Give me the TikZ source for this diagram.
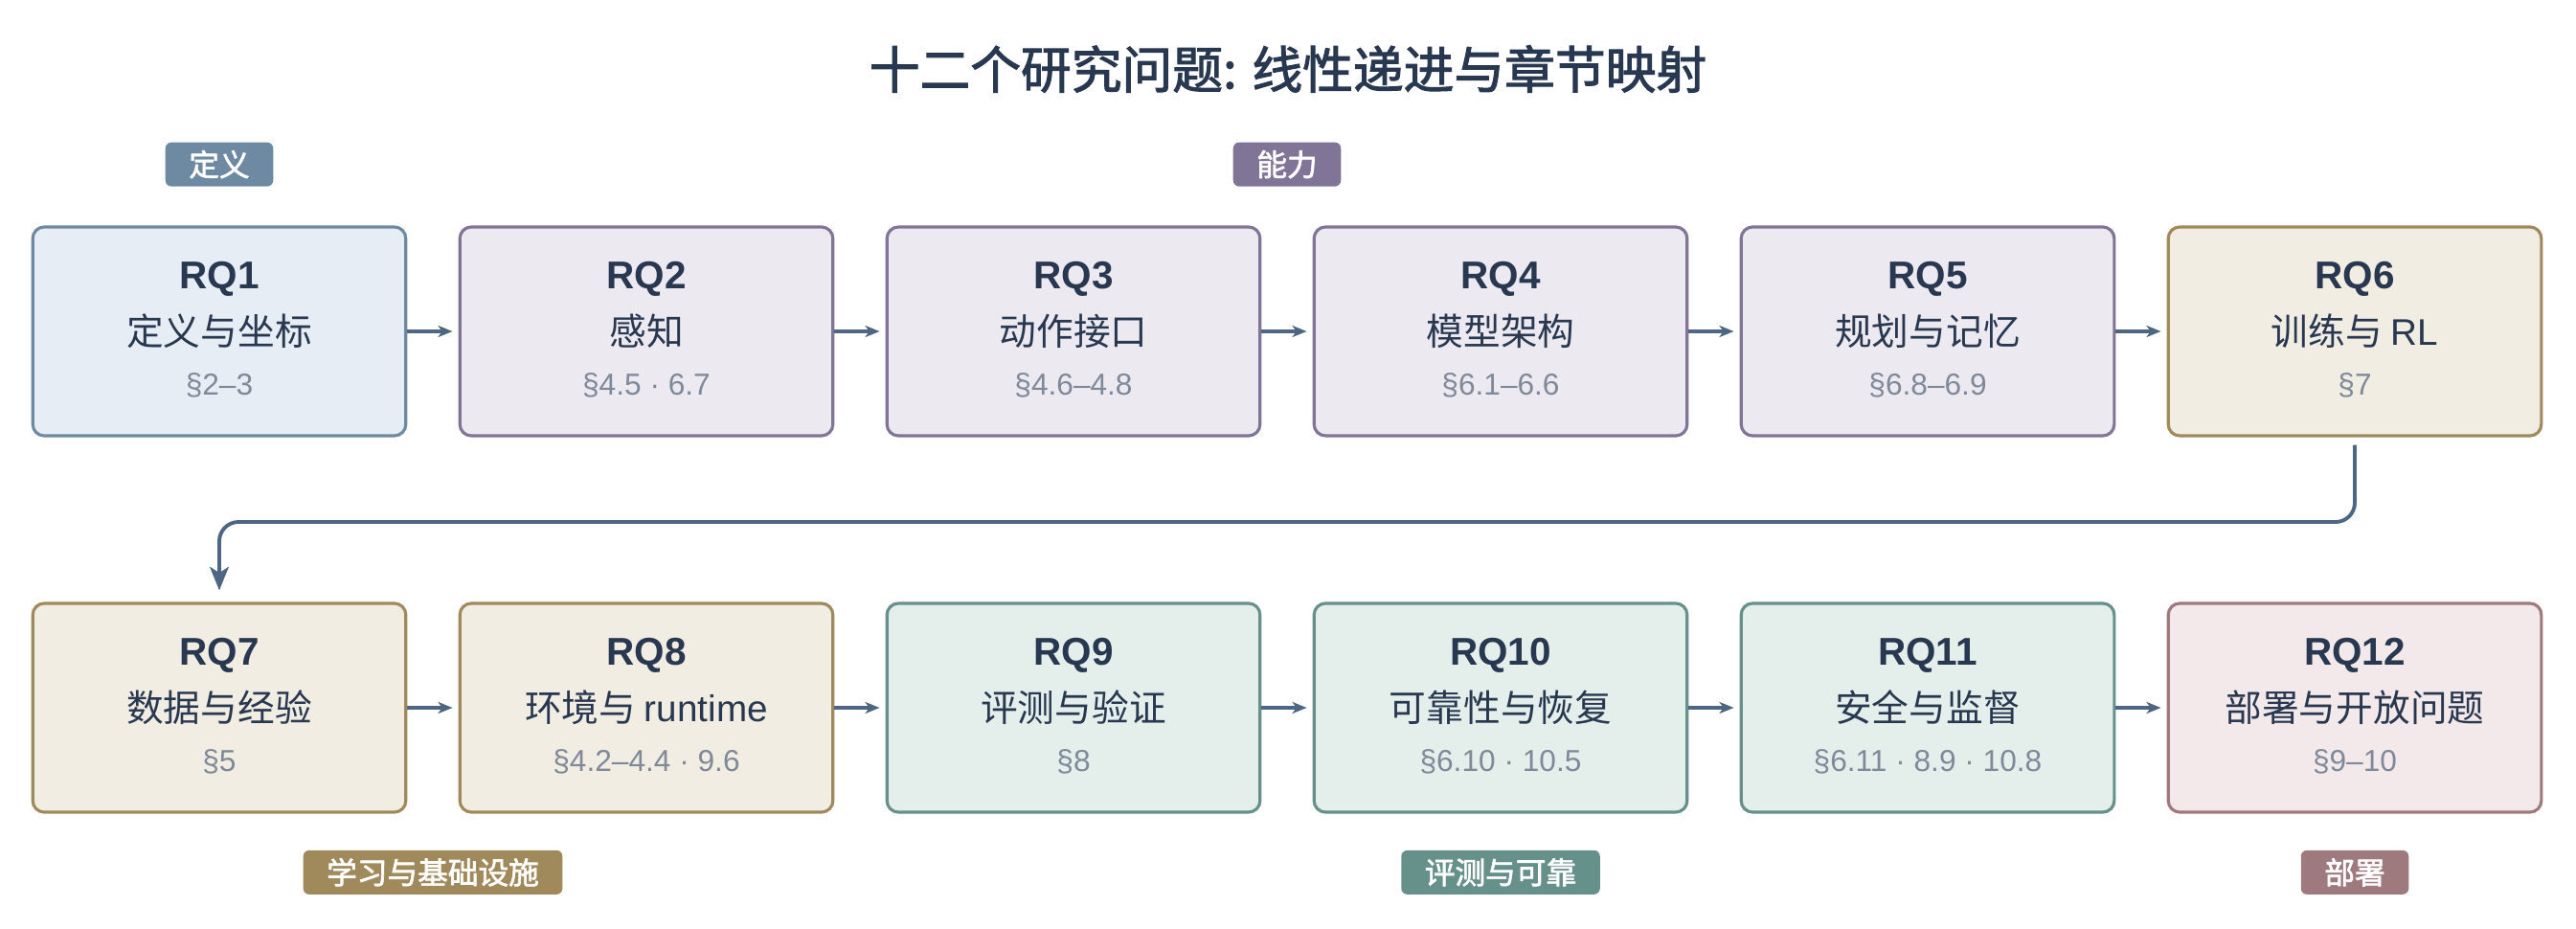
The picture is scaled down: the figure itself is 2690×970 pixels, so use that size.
\documentclass[tikz,border=0pt]{standalone}
\usepackage{fontspec}
\setmainfont{Liberation Sans}
\newfontfamily\cjk{Noto Sans CJK SC}
\newfontfamily\cjkmid{Noto Sans CJK SC}[FakeBold=2]
\usetikzlibrary{arrows.meta,positioning,calc}

\definecolor{ink}{HTML}{283850}
\definecolor{secgrey}{HTML}{7E899A}
\definecolor{flowcol}{HTML}{4D6682}
\definecolor{defline}{HTML}{6E8AA2}
\definecolor{deffill}{HTML}{E7EDF4}
\definecolor{capline}{HTML}{807596}
\definecolor{capfill}{HTML}{ECE9F1}
\definecolor{lrnline}{HTML}{A08A5C}
\definecolor{lrnfill}{HTML}{F2EDE2}
\definecolor{evlline}{HTML}{66908A}
\definecolor{evlfill}{HTML}{E4EFEC}
\definecolor{depline}{HTML}{9E7A7E}
\definecolor{depfill}{HTML}{F3E8EA}

\tikzset{
  rqbox/.style={draw=#1line, fill=#1fill, line width=0.9pt, rounded corners=3.4pt,
    minimum width=3.894cm, minimum height=2.179cm, inner sep=0pt},
  tag/.style={fill=#1line, text=white, rounded corners=1.8pt, minimum height=0.46cm,
    inner xsep=7pt, inner ysep=0pt, font=\cjkmid\fontsize{9}{9}\selectfont},
  flow/.style={draw=flowcol, line width=0.95pt,
    -{Stealth[length=4.3pt,width=3.4pt,inset=1.2pt]}, shorten >=1.7pt},
  wrap/.style={draw=flowcol, line width=1.1pt, rounded corners=5.7pt,
    -{Stealth[length=7pt,width=5.6pt,inset=1.8pt]}, shorten <=2.3pt, shorten >=3.4pt}
}

\begin{document}
\begin{tikzpicture}[x=0.01cm, y=0.01cm]
  \useasboundingbox (0,0) rectangle (2690,-970);

  \node[font=\cjkmid\fontsize{15}{16}\selectfont, text=ink] (title) at (1345,-72)
    {十二个研究问题: 线性递进与章节映射};

  % research questions, two rows of six
  \foreach \n/\x/\y/\grp/\name/\sec in {
      1/229/-346/def/定义与坐标/§2–3,
      2/675/-346/cap/感知/§4.5 · 6.7,
      3/1121/-346/cap/动作接口/§4.6–4.8,
      4/1567/-346/cap/模型架构/§6.1–6.6,
      5/2013/-346/cap/规划与记忆/§6.8–6.9,
      6/2459/-346/lrn/训练与 {\rmfamily RL}/§7,
      7/229/-739/lrn/数据与经验/§5,
      8/675/-739/lrn/环境与 {\rmfamily runtime}/§4.2–4.4 · 9.6,
      9/1121/-739/evl/评测与验证/§8,
      10/1567/-739/evl/可靠性与恢复/§6.10 · 10.5,
      11/2013/-739/evl/安全与监督/§6.11 · 8.9 · 10.8,
      12/2459/-739/dep/部署与开放问题/§9–10}{
    \node[rqbox=\grp] (rq\n) at (\x,\y) {};
    \node[font=\bfseries\fontsize{11.5}{12}\selectfont, text=ink] (rq\n-id)
      at ([yshift=15.6pt]rq\n.center) {RQ\n};
    \node[font=\cjk\fontsize{11}{12}\selectfont, text=ink] (rq\n-name)
      at (rq\n.center) {\name};
    \node[font=\fontsize{9}{10}\selectfont, text=secgrey] (rq\n-sec)
      at ([yshift=-16pt]rq\n.center) {\sec};
  }

  \foreach \a/\b in {1/2,2/3,3/4,4/5,5/6,7/8,8/9,9/10,10/11,11/12}
    \draw[flow] (rq\a) -- (rq\b);

  % wrap from end of row one to start of row two
  \draw[wrap] (rq6.south) -- ++(0,-88.4) -| (rq7.north);

  % group tags
  \coordinate (mcap) at ($(rq2.north)!0.5!(rq5.north)$);
  \coordinate (mlrn) at ($(rq7.south)!0.5!(rq8.south)$);
  \coordinate (mevl) at (rq10.south);
  \node[tag=def, above=0.4cm of rq1] (gdef) {定义};
  \node[tag=cap, above=0.4cm of mcap] (gcap) {能力};
  \node[tag=lrn, below=0.375cm of mlrn] (glrn) {学习与基础设施};
  \node[tag=evl, below=0.375cm of mevl] (gevl) {评测与可靠};
  \node[tag=dep, below=0.375cm of rq12] (gdep) {部署};
\end{tikzpicture}
\end{document}
